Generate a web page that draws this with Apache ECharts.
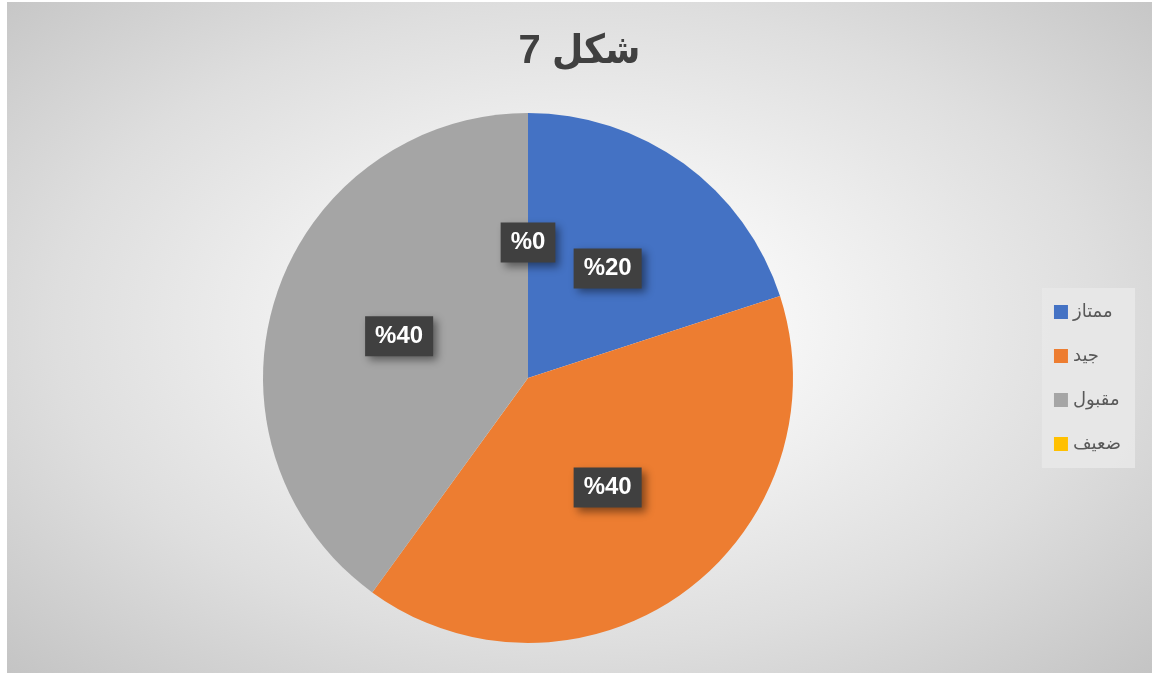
<!DOCTYPE html>
<html>
<head>
<meta charset="utf-8">
<script src="https://cdn.jsdelivr.net/npm/echarts@6/dist/echarts.min.js"></script>
<style>
  html, body { margin: 0; padding: 0; background: #fff; }
  #chart {
    position: absolute; left: 7px; top: 2px; width: 1145px; height: 671px;
    background: radial-gradient(ellipse farthest-corner at 50% 48%, #ffffff 0%, #f6f6f6 25%, #dedede 65%, #c4c4c4 100%);
  }
</style>
</head>
<body>
<div id="chart"></div>
<script>
// chart data
const categories = ['ممتاز', 'جيد', 'مقبول', 'ضعيف']
const percentValues = [20, 40, 40, 0]
const sliceColors = ['#4472C4', '#ED7D31', '#A5A5A5', '#FFC000']
const chartTitle = 'شكل 7'

const chart = echarts.init(document.getElementById('chart'))

const option = {
  backgroundColor: 'transparent',
  title: {
    text: chartTitle,
    left: 'center',
    top: 25,
    textStyle: {
      fontFamily: 'Liberation Sans, DejaVu Sans Condensed, DejaVu Sans, sans-serif',
      fontSize: 40,
      fontWeight: 'bold',
      color: '#404040'
    }
  },
  legend: {
    orient: 'vertical',
    right: 17,
    top: 286,
    icon: 'rect',
    itemWidth: 14,
    itemHeight: 14,
    itemGap: 26,
    padding: [15, 14, 15, 12],
    backgroundColor: 'rgba(232,232,232,0.9)',
    data: categories,
    textStyle: {
      fontFamily: 'DejaVu Sans, sans-serif',
      fontSize: 18,
      color: '#595959'
    }
  },
  series: [
    {
      type: 'pie',
      center: [521, 376],
      radius: 265,
      startAngle: 90,
      clockwise: true,
      avoidLabelOverlap: false,
      itemStyle: { borderWidth: 0 },
      label: {
        show: true,
        position: 'inside',
        formatter: (p) => '%' + p.value,
        fontFamily: 'Liberation Sans, Arial, sans-serif',
        fontSize: 24,
        fontWeight: 'bold',
        color: '#ffffff',
        backgroundColor: '#404040',
        padding: [8, 10],
        shadowColor: 'rgba(0,0,0,0.45)',
        shadowBlur: 8,
        shadowOffsetX: 4,
        shadowOffsetY: 4
      },
      labelLine: { show: false },
      emphasis: { disabled: true },
      data: categories.map((name, i) => ({
        name: name,
        value: percentValues[i],
        itemStyle: { color: sliceColors[i] }
      }))
    }
  ]
}

chart.setOption(option)
</script>
</body>
</html>
